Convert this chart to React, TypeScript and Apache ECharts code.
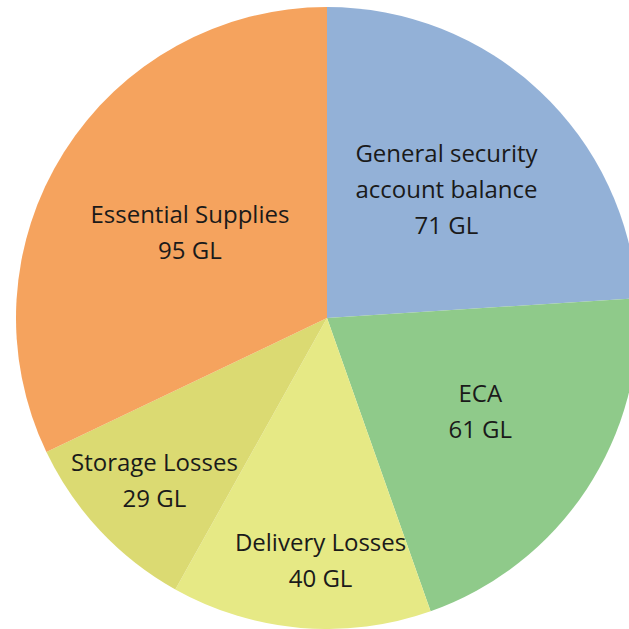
import React, { useEffect, useRef } from "react";
import * as echarts from "echarts";

const categories = [
  "General security\naccount balance",
  "ECA",
  "Delivery Losses",
  "Storage Losses",
  "Essential Supplies",
];
const values = [71, 61, 40, 29, 95];
const unit = "GL";
const colors = ["#93B1D7", "#8FCA8A", "#E6E985", "#DBDA72", "#F5A35E"];
// label nudges from the default inside position (pixels)
const labelNudge: [number, number][] = [
  [11, -14],
  [21, 5],
  [7, 84],
  [-57, 53],
  [-3, -2],
];

export default function App() {
  const ref = useRef<HTMLDivElement>(null);
  useEffect(() => {
    if (!ref.current) return;
    const chart = echarts.init(ref.current, null, { renderer: "svg" });
    chart.setOption({
      animation: false,
      series: [
        {
          type: "pie",
          center: [327, 318],
          radius: [0, 311],
          startAngle: 90,
          clockwise: true,
          avoidLabelOverlap: false,
          data: categories.map((name, i) => ({
            name,
            value: values[i],
            itemStyle: { color: colors[i] },
          })),
          itemStyle: { borderWidth: 0 },
          label: {
            show: true,
            position: "inside",
            formatter: (p: any) => `${p.name}\n${p.value} ${unit}`,
            fontFamily: "Open Sans",
            fontSize: 24,
            lineHeight: 36,
            color: "#1a1a1a",
            align: "center",
          },
          labelLine: { show: false },
          labelLayout: (p: any) => ({
            dx: labelNudge[p.dataIndex][0],
            dy: labelNudge[p.dataIndex][1],
          }),
          emphasis: { disabled: true },
        },
      ],
    });
    return () => chart.dispose();
  }, []);
  return (
    <div
      ref={ref}
      style={{ position: "absolute", left: 0, top: 0, width: 629, height: 629, background: "#fff" }}
    />
  );
}
